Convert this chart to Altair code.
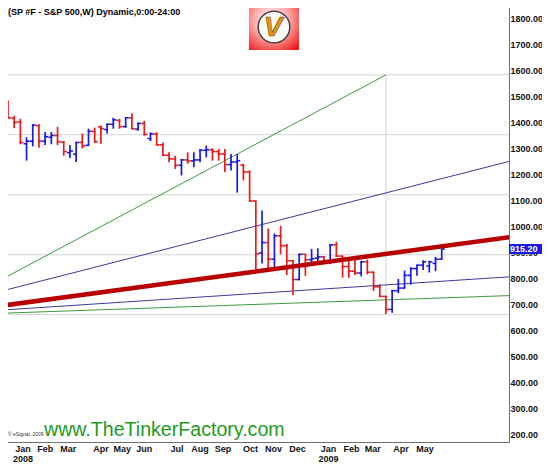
import altair as alt
import pandas as pd

TITLE = "(SP #F - S&P 500,W) Dynamic,0:00-24:00"
WATERMARK = "www.TheTinkerFactory.com"
COPYRIGHT = "\u00a9 eSignal, 2009"
LAST_LABEL = "915.20"
LAST_PRICE = 915.2

# weekly bars (Fridays), first bar week of 2007-12-28
first_week = "2007-12-28"
opens = [1500, 1480, 1418, 1404, 1320, 1330, 1390, 1330, 1345, 1352, 1326, 1286, 1280, 1325, 1314, 1368,
         1385, 1375, 1395, 1410, 1386, 1420, 1376, 1398, 1340, 1358, 1316, 1276, 1262, 1237, 1258, 1254,
         1258, 1295, 1297, 1290, 1281, 1240, 1250, 1238, 1212, 1100, 900, 940, 876, 966, 928, 870,
         798, 895, 874, 880, 885, 870, 931, 888, 848, 830, 823, 866, 826, 770, 733, 683, 755, 765,
         814, 840, 853, 850, 860, 876]
highs = [1508, 1486, 1428, 1416, 1345, 1395, 1395, 1365, 1365, 1385, 1330, 1315, 1328, 1360, 1378, 1382,
         1390, 1398, 1420, 1416, 1422, 1437, 1402, 1408, 1364, 1364, 1325, 1287, 1274, 1262, 1287, 1287,
         1300, 1313, 1303, 1300, 1300, 1281, 1281, 1243, 1217, 1100, 1063, 994, 975, 1004, 935, 872,
         897, 895, 916, 918, 887, 935, 943, 888, 870, 877, 870, 875, 828, 780, 735, 758, 800, 832,
         845, 855, 872, 870, 885, 918]
lows = [1480, 1416, 1380, 1318, 1255, 1310, 1305, 1315, 1318, 1315, 1274, 1265, 1250, 1302, 1312, 1324,
        1320, 1360, 1378, 1378, 1382, 1376, 1370, 1351, 1330, 1313, 1274, 1249, 1223, 1198, 1243, 1230,
        1249, 1268, 1255, 1255, 1211, 1217, 1132, 1179, 1097, 837, 860, 841, 838, 895, 815, 738,
        795, 812, 850, 855, 857, 857, 885, 805, 804, 815, 810, 818, 754, 730, 665, 670, 745, 765,
        778, 812, 835, 825, 830, 875]
closes = [1484, 1420, 1402, 1325, 1330, 1392, 1330, 1347, 1352, 1328, 1290, 1292, 1325, 1312, 1368, 1328,
          1378, 1395, 1412, 1386, 1420, 1378, 1398, 1356, 1358, 1316, 1276, 1262, 1237, 1258, 1254, 1258,
          1295, 1297, 1290, 1281, 1240, 1250, 1255, 1212, 1100, 897, 940, 876, 966, 928, 870, 798,
          895, 874, 878, 885, 870, 931, 888, 848, 830, 823, 866, 826, 770, 733, 683, 755, 765, 814,
          840, 853, 866, 866, 876, 915.2]

# trend / fan lines: name, start date, start value, end date, end value
line_names = ["green_steep", "navy_upper", "navy_lower", "green_lower", "red_thick"]
line_start_dates = ["2007-12-26", "2007-12-26", "2007-12-26", "2007-12-26", "2008-01-01"]
line_start_vals = [795, 752, 680, 668, 699]
line_end_dates = ["2009-03-06", "2009-07-31", "2009-07-31", "2009-07-31", "2009-07-31"]
line_end_vals = [1585, 1259, 810, 737, 964]

# box grid levels and its vertical edge
grid_levels = [663, 893, 1124, 1355, 1585]
box_date = "2009-03-06"

# axes
x_domain = ["2007-12-26", "2009-07-23"]
y_domain = [173, 1873]
y_ticks = list(range(200, 1801, 100))
month_names = ["Jan", "Feb", "Mar", "Apr", "May", "Jun", "Jul", "Aug", "Sep", "Oct", "Nov", "Dec",
               "Jan", "Feb", "Mar", "Apr", "May"]
month_years = ["2008", "", "", "", "", "", "", "", "", "", "", "", "2009", "", "", "", ""]
month_label_at = ["2008-01-21", "2008-02-15", "2008-03-12", "2008-04-18", "2008-05-12", "2008-06-06",
                  "2008-07-13", "2008-08-08", "2008-09-03", "2008-10-04", "2008-10-30", "2008-11-26",
                  "2008-12-31", "2009-01-26", "2009-02-19", "2009-03-23", "2009-04-19"]

RED = "#ea1a1a"
BLUE = "#1a1ae4"
FONT = "Liberation Sans"
PLOT_W, PLOT_H = 509, 442

dates = pd.date_range(first_week, periods=len(opens), freq="7D").strftime("%Y-%m-%d")
bars = pd.DataFrame({"date": dates, "open": opens, "high": highs, "low": lows, "close": closes})

rows = []
for n, sd, sv, ed, ev in zip(line_names, line_start_dates, line_start_vals, line_end_dates, line_end_vals):
    rows.append({"name": n, "date": sd, "value": sv})
    rows.append({"name": n, "date": ed, "value": ev})
lines = pd.DataFrame(rows)

months = pd.DataFrame({"date": month_label_at, "month": month_names, "year": month_years})


def dt(s):
    y, m, d = (int(v) for v in s.split("-"))
    return alt.DateTime(year=y, month=m, date=d, utc=True)


x_scale = alt.Scale(type="utc", domain=[dt(d) for d in x_domain])
y_scale = alt.Scale(domain=y_domain, zero=False, nice=False)

x_axis = alt.Axis(labels=False, title=None, ticks=False, grid=False, domainColor="#6e6e6e", domainWidth=1)
y_axis = alt.Axis(
    orient="right", values=y_ticks, format=".2f", title=None, ticks=False, grid=False,
    domainColor="#6e6e6e", domainWidth=1, labelFont=FONT, labelFontSize=9, labelFontWeight="bold",
    labelColor="#111111", labelPadding=1, labelOverlap=False, labelFlush=False, labelBound=False,
    labelAlign="left", labelBaseline="middle",
)


def X(field):
    return alt.X(f"{field}:T", scale=x_scale, axis=x_axis)


def Y(field):
    return alt.Y(f"{field}:Q", scale=y_scale, axis=y_axis)


grid = alt.Chart(pd.DataFrame({"level": grid_levels})).mark_rule(color="#d4d4d4", strokeWidth=1).encode(
    y=Y("level"))

vline = alt.Chart(pd.DataFrame({"date": [box_date], "lo": [grid_levels[0]], "hi": [grid_levels[-1]]})).mark_rule(
    color="#d4d4d4", strokeWidth=1).encode(x=X("date"), y=Y("lo"), y2="hi")

green_lines = alt.Chart(lines[lines["name"].str.startswith("green")]).mark_line(
    color="#3f9a3f", strokeWidth=1, clip=True).encode(x=X("date"), y=Y("value"), detail="name:N")
navy_lines = alt.Chart(lines[lines["name"].str.startswith("navy")]).mark_line(
    color="#3a3a9c", strokeWidth=1, clip=True).encode(x=X("date"), y=Y("value"), detail="name:N")
red_line = alt.Chart(lines[lines["name"] == "red_thick"]).mark_line(
    color="#b80000", strokeWidth=4.5, clip=True).encode(x=X("date"), y=Y("value"), detail="name:N")

bar_color = alt.condition("datum.close >= datum.open", alt.value(BLUE), alt.value(RED))
base = alt.Chart(bars)
hl = base.mark_rule(strokeWidth=1.7).encode(x=X("date"), y=Y("low"), y2="high", color=bar_color)
op = base.mark_rule(strokeWidth=1.6, xOffset=-3, x2Offset=0.8).encode(
    x=X("date"), x2="date", y=Y("open"), color=bar_color)
cl = base.mark_rule(strokeWidth=1.6, xOffset=-0.8, x2Offset=3).encode(
    x=X("date"), x2="date", y=Y("close"), color=bar_color)

month_text = alt.Chart(months).mark_text(
    align="center", baseline="middle", font=FONT, fontSize=9, fontWeight="bold", color="#111111").encode(
    x=X("date"), y=alt.value(449), text="month:N")
year_text = alt.Chart(months).mark_text(
    align="center", baseline="middle", font=FONT, fontSize=9, fontWeight="bold", color="#111111").encode(
    x=X("date"), y=alt.value(459), text="year:N")

one = pd.DataFrame({"price": [LAST_PRICE], "label": [LAST_LABEL]})
price_box = alt.Chart(one).mark_rule(color="#1a1ae6", strokeWidth=10, strokeCap="butt").encode(
    x=alt.value(PLOT_W), x2=alt.value(PLOT_W + 33), y=Y("price"))
price_text = alt.Chart(one).mark_text(
    align="left", baseline="middle", font=FONT, fontSize=9, fontWeight="bold", color="white").encode(
    x=alt.value(PLOT_W + 1), y=Y("price"), text="label:N")

title = alt.Chart(pd.DataFrame({"t": [TITLE]})).mark_text(
    align="left", baseline="middle", font=FONT, fontSize=9, fontWeight="bold", color="#000000").encode(
    x=alt.value(8), y=alt.value(12), text="t:N")

wm = alt.Chart(pd.DataFrame({"t": [WATERMARK]})).mark_text(
    align="left", baseline="alphabetic", font=FONT, fontSize=19.6, color="#229a22").encode(
    x=alt.value(44), y=alt.value(436), text="t:N")
cp = alt.Chart(pd.DataFrame({"t": [COPYRIGHT]})).mark_text(
    align="left", baseline="alphabetic", font=FONT, fontSize=5, color="#333333").encode(
    x=alt.value(8), y=alt.value(436), text="t:N")

logo_bg = alt.Chart(pd.DataFrame({"a": [0]})).mark_rect(
    fill=alt.RadialGradient(gradient="radial", x1=0.45, y1=0.4, r1=0, x2=0.45, y2=0.4, r2=0.75,
                            stops=[alt.GradientStop(color="#ffffff", offset=0),
                                   alt.GradientStop(color="#ffb0b0", offset=0.45),
                                   alt.GradientStop(color="#ee1c1c", offset=1)])).encode(
    x=alt.value(249), x2=alt.value(299), y=alt.value(0), y2=alt.value(50))
logo_circle = alt.Chart(pd.DataFrame({"a": [0]})).mark_point(
    shape="circle", filled=True, fill="#fafafa", stroke="#444444", strokeWidth=1.5, size=1000, opacity=1).encode(
    x=alt.value(274), y=alt.value(27))
logo_v = alt.Chart(pd.DataFrame({"t": ["V"]})).mark_text(
    font=FONT, fontSize=28, fontWeight="bold", fontStyle="italic", color="#e89512", stroke="#7a4a00",
    strokeWidth=0.6, baseline="middle", align="center").encode(
    x=alt.value(273), y=alt.value(28), text="t:N")

chart = alt.layer(
    grid, vline, green_lines, navy_lines, hl, op, cl, red_line, month_text, year_text,
    price_box, price_text, title, wm, cp, logo_bg, logo_circle, logo_v,
).properties(
    width=PLOT_W, height=PLOT_H,
    padding={"left": -8, "top": -8, "right": 33, "bottom": 22},
    autosize=alt.AutoSizeParams(type="none"),
    background="white",
).configure_view(strokeWidth=0)

chart.save("out.html", embed_options={"renderer": "svg", "actions": False})
